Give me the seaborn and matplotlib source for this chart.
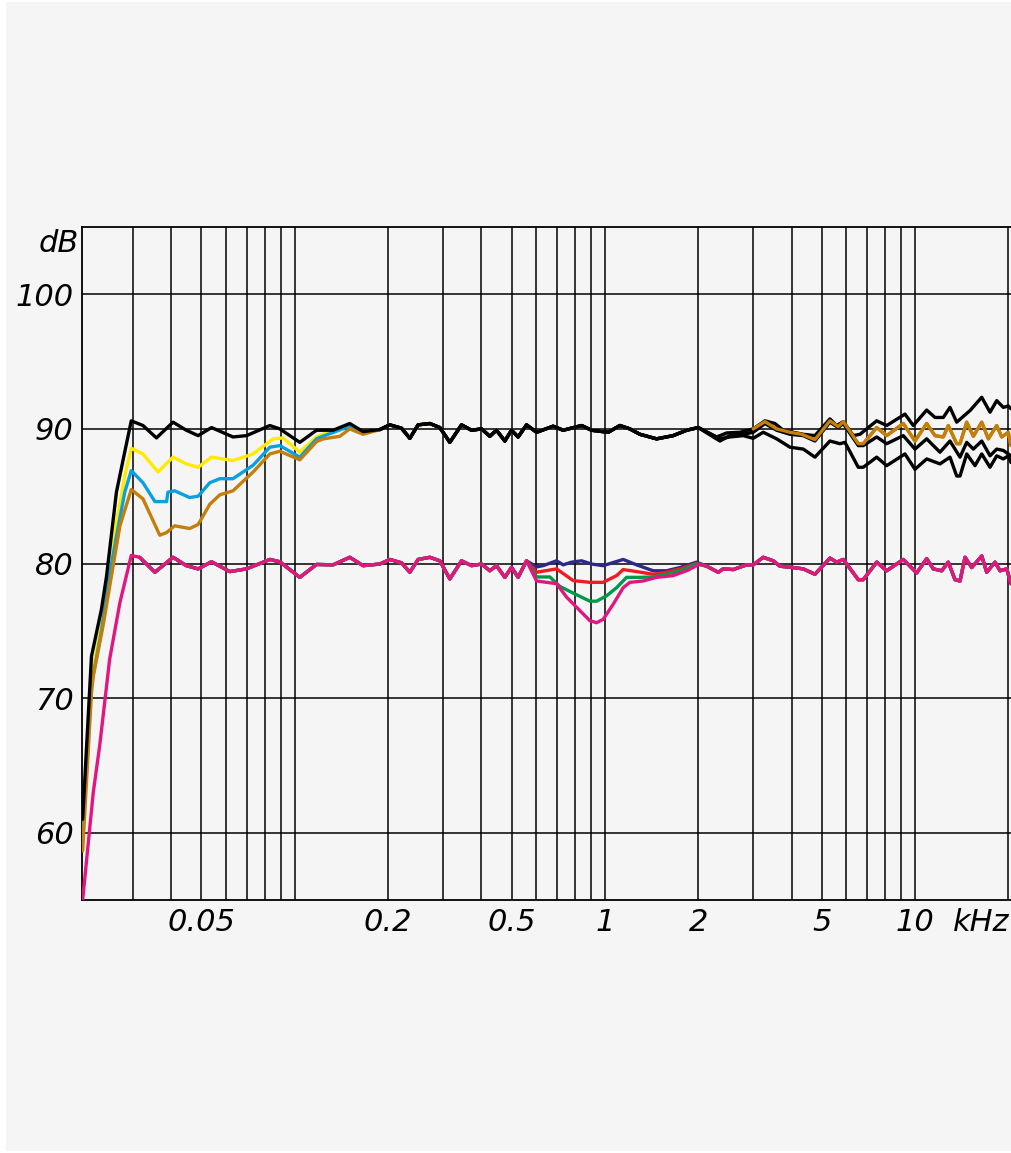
import matplotlib
matplotlib.use("Agg")
import matplotlib.pyplot as plt
import matplotlib.patches as mpatches
from matplotlib.ticker import NullFormatter, FixedLocator
import seaborn as sns

# ---------------- data (frequency in kHz, level in dB) ----------------
# upper group: low-frequency rise / low-frequency part
black_lf_f = [0.0207, 0.0221, 0.0238, 0.0247, 0.0266, 0.0283, 0.0297, 0.0324, 0.0358,
              0.0405, 0.0447, 0.0488, 0.0539, 0.0632, 0.0699, 0.0831, 0.0895, 0.1038,
              0.1175, 0.1329, 0.1504, 0.1661]
black_lf_db = [61.0, 73.1, 76.6, 79.0, 85.3, 88.3, 90.6, 90.25, 89.33,
               90.5, 89.9, 89.5, 90.1, 89.4, 89.5, 90.25, 90.0, 89.0,
               89.9, 89.9, 90.4, 89.8]

yellow_lf_f = [0.0207, 0.0221, 0.0238, 0.0250, 0.0266, 0.0283, 0.0297, 0.0324, 0.0362,
               0.0405, 0.0447, 0.0488, 0.0539, 0.0632, 0.0734, 0.0851, 0.0917, 0.1038,
               0.1175, 0.1231, 0.1504, 0.1661]
yellow_lf_db = [59.6, 71.5, 75.5, 79.0, 83.0, 86.5, 88.56, 88.14, 86.8,
                87.9, 87.4, 87.15, 87.9, 87.65, 88.14, 89.26, 89.33, 88.27,
                89.4, 89.6, 90.3, 89.75]

cyan_lf_f = [0.0207, 0.0221, 0.0238, 0.0252, 0.0266, 0.0283, 0.0297, 0.0324, 0.0354,
             0.0386, 0.0390, 0.0410, 0.0458, 0.0488, 0.0532, 0.0573, 0.0632, 0.0734,
             0.0831, 0.0895, 0.1038, 0.1175, 0.1231, 0.1504, 0.1661]
cyan_lf_db = [59.6, 71.0, 75.0, 79.0, 82.0, 85.3, 86.9, 86.0, 84.6,
              84.6, 85.3, 85.4, 84.9, 85.0, 86.0, 86.3, 86.3, 87.3,
              88.64, 88.76, 87.9, 89.26, 89.45, 90.2, 89.7]

orange_lf_f = [0.0207, 0.0221, 0.0224, 0.0241, 0.0256, 0.0273, 0.0297, 0.0324, 0.0367,
               0.0386, 0.0410, 0.0458, 0.0488, 0.0532, 0.0573, 0.0632, 0.0734, 0.0831,
               0.0895, 0.1038, 0.1175, 0.1231, 0.1397, 0.1504, 0.1661]
orange_lf_db = [58.65, 70.4, 71.65, 75.4, 79.0, 82.8, 85.5, 84.8, 82.1,
                82.3, 82.8, 82.6, 82.9, 84.4, 85.1, 85.4, 86.8, 88.14,
                88.34, 87.7, 89.05, 89.25, 89.45, 90.0, 89.6]

# upper group: common middle part
upper_mid_f = [0.188, 0.2025, 0.2209, 0.235, 0.2499, 0.2726, 0.2936, 0.3162, 0.3449,
               0.3715, 0.4003, 0.4256, 0.4472, 0.4758, 0.5, 0.5251, 0.559, 0.6022,
               0.6812, 0.7338, 0.8411, 0.906, 1.0247, 1.1178, 1.204, 1.2968, 1.4683,
               1.6605, 1.8346, 2.0]
upper_mid_db = [89.95, 90.3, 90.05, 89.3, 90.3, 90.4, 90.1, 89.0, 90.3,
                89.9, 90.0, 89.45, 89.9, 89.1, 89.9, 89.4, 90.3, 89.75,
                90.2, 89.9, 90.25, 89.9, 89.75, 90.25, 90.0, 89.6, 89.26,
                89.5, 89.9, 90.1]

# upper group: high-frequency parts
black_hf_f = [2.2928, 2.4696, 2.7258, 3.0086, 3.2823, 3.5358, 3.7606, 4.0507, 4.3631,
              4.758, 5.3173, 5.5888, 5.8719, 6.3241, 6.6463, 7.525, 8.1058, 9.2832,
              9.8741, 10.907, 11.602, 12.341, 12.968, 13.63, 15.047, 16.415, 17.458,
              18.346, 19.267, 20.0, 20.4]
black_hf_db = [89.4, 89.7, 89.75, 90.0, 90.6, 90.4, 89.9, 89.75, 89.6,
               89.5, 90.74, 90.25, 90.54, 89.5, 89.6, 90.6, 90.25, 91.1,
               90.25, 91.4, 90.85, 90.85, 91.6, 90.5, 91.36, 92.35, 91.24,
               92.1, 91.6, 91.7, 91.5]

orange_hf_f = [2.2928, 2.4696, 2.7258, 3.0086, 3.2823, 3.5809, 3.953, 4.3112, 4.758,
               5.3173, 5.6561, 5.8719, 6.5629, 6.8109, 7.525, 8.1058, 9.1685, 10.0,
               10.907, 11.602, 12.341, 12.807, 13.63, 13.97, 14.683, 15.423, 16.415,
               17.24, 18.346, 19.042, 20.0, 20.4]
orange_hf_db = [89.3, 89.65, 89.7, 90.0, 90.54, 90.0, 89.75, 89.6, 89.2,
                90.6, 90.17, 90.54, 88.9, 88.9, 90.1, 89.5, 90.4, 89.1,
                90.4, 89.5, 89.4, 90.25, 88.9, 88.9, 90.5, 89.45, 90.5,
                89.26, 90.25, 89.4, 89.75, 88.76]

black2_hf_f = [2.3496, 2.5306, 2.793, 3.0086, 3.2823, 3.5809, 3.953, 4.3631, 4.758,
               5.3173, 5.6561, 5.8719, 6.5629, 6.8109, 7.525, 8.1058, 9.1685, 10.0,
               10.907, 12.04, 12.968, 13.97, 14.683, 15.423, 16.415, 17.458, 18.346,
               19.267, 20.4]
black2_hf_db = [89.1, 89.5, 89.6, 89.75, 90.4, 89.9, 89.6, 89.5, 89.1,
                90.5, 90.1, 90.4, 88.76, 88.76, 89.4, 88.9, 89.5, 88.5,
                89.26, 88.27, 89.1, 87.9, 89.0, 88.5, 89.1, 88.0, 88.5,
                88.4, 88.0]

black3_hf_f = [2.3496, 2.5306, 2.793, 3.0086, 3.241, 3.5809, 3.953, 4.3631, 4.758,
               5.3173, 5.728, 5.9467, 6.5629, 6.8109, 7.525, 8.1058, 9.2832, 10.0,
               10.907, 12.04, 12.968, 13.63, 13.97, 14.683, 15.615, 16.415, 17.458,
               18.346, 19.267, 20.0, 20.4]
black3_hf_db = [89.26, 89.4, 89.5, 89.3, 89.75, 89.26, 88.64, 88.5, 87.9,
                89.1, 88.9, 89.0, 87.15, 87.15, 87.9, 87.27, 88.14, 87.0,
                87.77, 87.4, 87.9, 86.5, 86.5, 88.14, 87.27, 88.14, 87.15,
                88.0, 87.77, 88.0, 87.5]

# lower group: rise + common low/mid part
lower_rise_f = [0.0207, 0.0224, 0.0235, 0.0253, 0.0273, 0.0297]
lower_rise_db = [55.0, 63.0, 66.5, 72.9, 77.1, 80.6]

lower_lf_f = [0.0316, 0.0354, 0.0405, 0.0447, 0.0488, 0.0539, 0.0617, 0.0699, 0.0831,
              0.0895, 0.1038, 0.1175, 0.1329, 0.1504, 0.1661, 0.188, 0.2025, 0.2209,
              0.235, 0.2499, 0.2726, 0.2936, 0.3162, 0.3449, 0.3715, 0.4003, 0.4256,
              0.4472, 0.4758, 0.5, 0.5251, 0.559]
lower_lf_db = [80.46, 79.35, 80.46, 79.84, 79.6, 80.13, 79.4, 79.6, 80.3,
               80.13, 78.97, 79.93, 79.9, 80.46, 79.84, 79.96, 80.3, 80.05,
               79.35, 80.3, 80.46, 80.2, 78.85, 80.2, 79.84, 79.96, 79.46,
               79.84, 78.97, 79.72, 78.97, 80.2]

# lower group: individual parts around 1 kHz
navy_mid_f = [0.6022, 0.6324, 0.6985, 0.7338, 0.781, 0.8411, 0.906, 0.9874, 1.1455,
              1.2655, 1.4316, 1.5812, 1.7458, 1.9762]
navy_mid_db = [79.75, 79.84, 80.2, 79.9, 80.1, 80.2, 79.96, 79.84, 80.3,
               79.9, 79.46, 79.46, 79.7, 80.1]

red_mid_f = [0.6022, 0.6985, 0.7903, 0.8946, 0.9874, 1.0907, 1.1455, 1.2655, 1.4316,
             1.5812, 1.7458, 1.9762]
red_mid_db = [79.35, 79.6, 78.73, 78.6, 78.6, 79.1, 79.55, 79.4, 79.2,
              79.35, 79.6, 80.0]

green_mid_f = [0.6022, 0.6647, 0.7158, 0.7903, 0.8946, 0.9401, 1.0127, 1.0907, 1.1749,
               1.2968, 1.4316, 1.5812, 1.7458, 1.9762]
green_mid_db = [79.0, 79.0, 78.3, 77.8, 77.2, 77.2, 77.6, 78.2, 78.97,
                78.97, 79.0, 79.2, 79.46, 79.96]

magenta_mid_f = [0.6022, 0.6985, 0.7526, 0.8105, 0.8946, 0.9401, 0.9874, 1.0636, 1.1455,
                 1.204, 1.3289, 1.4683, 1.6605, 1.8346, 2.0255]
magenta_mid_db = [78.7, 78.5, 77.5, 76.75, 75.75, 75.6, 75.85, 76.97, 78.2,
                  78.6, 78.7, 78.97, 79.1, 79.46, 79.96]

# lower group: common high-frequency part
lower_hf_f = [2.1289, 2.3204, 2.4077, 2.5938, 2.8651, 3.0086, 3.241, 3.4914, 3.6693,
              4.0507, 4.3631, 4.758, 5.3173, 5.5888, 5.8719, 6.5629, 6.8109, 7.525,
              8.1058, 9.1685, 10.127, 10.907, 11.455, 12.194, 12.807, 13.459, 13.97,
              14.501, 15.239, 16.415, 17.035, 18.12, 18.803, 19.761, 20.4]
lower_hf_db = [79.8, 79.35, 79.6, 79.55, 79.9, 79.9, 80.46, 80.2, 79.8,
               79.7, 79.6, 79.2, 80.4, 80.1, 80.3, 78.8, 78.8, 80.1,
               79.46, 80.3, 79.3, 80.36, 79.6, 79.46, 80.1, 78.8, 78.7,
               80.46, 79.7, 80.56, 79.35, 80.1, 79.46, 79.6, 78.5]

# axes
x_tick_values = [0.05, 0.2, 0.5, 1, 2, 5, 10]
x_tick_labels = ["0.05", "0.2", "0.5", "1", "2", "5", "10"]
x_grid = [0.03, 0.04, 0.05, 0.06, 0.07, 0.08, 0.09, 0.1, 0.2, 0.3, 0.4, 0.5, 0.6,
          0.7, 0.8, 0.9, 1, 2, 3, 4, 5, 6, 7, 8, 9, 10, 20]
y_ticks = [60, 70, 80, 90, 100]
x_unit = "kHz"
y_unit = "dB"

# colours
C_BLACK = "#000000"
C_YELLOW = "#FFEA00"
C_CYAN = "#0AA0E0"
C_ORANGE = "#C47F0A"
C_NAVY = "#2E2889"
C_RED = "#EE1C24"
C_GREEN = "#00994A"
C_MAGENTA = "#E3167F"
BG = "#F5F5F5"

# ---------------- figure ----------------
sns.set_theme(style="white")
plt.rcParams["font.family"] = ["DejaVu Sans"]

W, H = 1011, 1153
fig = plt.figure(figsize=(W / 100, H / 100), dpi=100, facecolor="white")
fig.patches.append(mpatches.Rectangle((6 / W, 2 / H), 1 - 6 / W, 1 - 4 / H,
                                      transform=fig.transFigure, facecolor=BG,
                                      edgecolor="none", zorder=-10))
ax = fig.add_axes([82 / W, 1 - 900 / H, 1 - 82 / W, (900 - 227) / H])
ax.set_facecolor(BG)

LW = 2.4


def draw(f, db, color, z, lw=LW):
    sns.lineplot(x=f, y=db, color=color, lw=lw, ax=ax, sort=False,
                 estimator=None, zorder=z, solid_joinstyle="round")


# lower group
draw(lower_lf_f + navy_mid_f + lower_hf_f, lower_lf_db + navy_mid_db + lower_hf_db, C_NAVY, 3)
draw(lower_lf_f + red_mid_f + lower_hf_f, lower_lf_db + red_mid_db + lower_hf_db, C_RED, 3.1)
draw(lower_lf_f + green_mid_f + lower_hf_f, lower_lf_db + green_mid_db + lower_hf_db, C_GREEN, 3.2)
draw(lower_rise_f + lower_lf_f + magenta_mid_f + lower_hf_f,
     lower_rise_db + lower_lf_db + magenta_mid_db + lower_hf_db, C_MAGENTA, 3.3)

# upper group
draw(yellow_lf_f + upper_mid_f, yellow_lf_db + upper_mid_db, C_YELLOW, 4)
draw(cyan_lf_f + upper_mid_f, cyan_lf_db + upper_mid_db, C_CYAN, 4.1)
draw(orange_lf_f + upper_mid_f + orange_hf_f, orange_lf_db + upper_mid_db + orange_hf_db,
     C_ORANGE, 4.2)
draw(upper_mid_f + black2_hf_f, upper_mid_db + black2_hf_db, C_BLACK, 4.3)
draw(upper_mid_f + black3_hf_f, upper_mid_db + black3_hf_db, C_BLACK, 4.4)
draw(black_lf_f + upper_mid_f + black_hf_f, black_lf_db + upper_mid_db + black_hf_db, C_BLACK, 4.5)
# orange drawn again above the black curves where it runs on top (from 3 kHz)
draw(orange_hf_f[3:], orange_hf_db[3:], C_ORANGE, 4.6)

# scales
ax.set_xscale("log")
ax.set_xlim(0.0206, 20.4)
ax.set_ylim(55, 105)
ax.set_xticks(x_tick_values)
ax.set_xticklabels(x_tick_labels)
ax.xaxis.set_minor_locator(FixedLocator([v for v in x_grid if v not in x_tick_values]))
ax.xaxis.set_minor_formatter(NullFormatter())
ax.set_yticks(y_ticks)
ax.set_yticklabels([str(v) for v in y_ticks])
ax.grid(False)
ax.grid(True, axis="x", which="both", color="black", lw=1.1)
ax.grid(True, axis="y", which="major", color="black", lw=1.1)
ax.set_axisbelow(True)
ax.tick_params(axis="both", which="both", length=0)
ax.tick_params(axis="x", pad=6, labelsize=22)
ax.tick_params(axis="y", pad=6, labelsize=22)
for lab in ax.get_xticklabels() + ax.get_yticklabels():
    lab.set_fontstyle("italic")
    lab.set_color("black")
ax.set_xlabel("")
ax.set_ylabel("")

for side in ["left", "top", "bottom"]:
    ax.spines[side].set_color("black")
    ax.spines[side].set_linewidth(1.3)
    ax.spines[side].set_visible(True)
ax.spines["right"].set_visible(False)

# unit labels
ax.annotate(y_unit, xy=(0, 103.75), xycoords=("axes fraction", "data"),
            xytext=(-3, 0), textcoords="offset pixels", ha="right", va="center",
            fontsize=22, fontstyle="italic", color="black")
ax.annotate(x_unit, xy=(16.4, 0), xycoords=("data", "axes fraction"),
            xytext=(0, -8), textcoords="offset pixels", ha="center", va="top",
            fontsize=22, fontstyle="italic", color="black")

fig.savefig("out.png", dpi=100, facecolor=fig.get_facecolor())
